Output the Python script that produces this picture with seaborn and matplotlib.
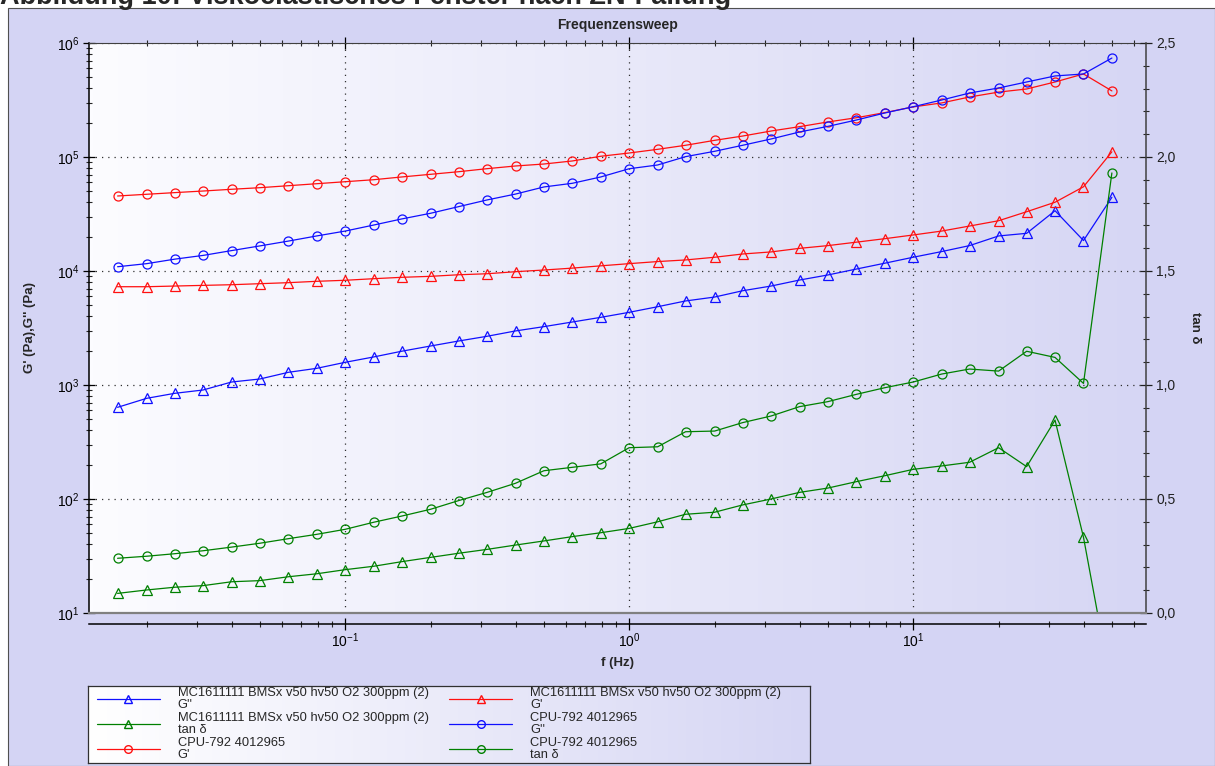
import numpy as np
import pandas as pd
import matplotlib
matplotlib.use("Agg")
import matplotlib.pyplot as plt
import seaborn as sns
from matplotlib.lines import Line2D
from matplotlib.patches import Rectangle
from matplotlib.ticker import LogLocator, MultipleLocator, FuncFormatter, NullFormatter

# Frequenz (Hz)
freq = [0.0158, 0.02, 0.0251, 0.0316, 0.0398, 0.0501, 0.0631, 0.0794,
        0.1, 0.126, 0.158, 0.2, 0.251, 0.316, 0.398, 0.501, 0.631, 0.794,
        1.0, 1.26, 1.58, 2.0, 2.51, 3.16, 3.98, 5.01, 6.31, 7.94,
        10.0, 12.6, 15.8, 20.0, 25.1, 31.6, 39.8, 50.1]

# CPU-792 4012965
cpu_g1 = [45500, 47100, 48700, 50300, 52100, 53800, 56000, 58300, 60700, 63200,
          66800, 70500, 74300, 79000, 83400, 86800, 92300, 101500, 108400, 116800,
          126700, 140000, 152700, 169000, 184500, 203000, 221000, 245000, 275000, 298000,
          336000, 371000, 395000, 455000, 535000, 380000]
cpu_g2 = [10900, 11600, 12700, 13700, 15100, 16600, 18300, 20300, 22400, 25300,
          28600, 32100, 36700, 42000, 47300, 54600, 58800, 66800, 78900, 85100,
          100700, 112200, 126700, 143900, 165700, 185700, 211000, 243000, 276000, 316000,
          364000, 403000, 455000, 514000, 535000, 738000]
cpu_tan = [0.240, 0.249, 0.260, 0.273, 0.289, 0.306, 0.326, 0.345, 0.367, 0.398,
           0.425, 0.455, 0.493, 0.529, 0.569, 0.624, 0.639, 0.654, 0.725, 0.729,
           0.795, 0.798, 0.835, 0.864, 0.905, 0.927, 0.959, 0.988, 1.013, 1.048,
           1.070, 1.061, 1.148, 1.121, 1.007, 1.93]

# MC1611111 BMSx v50 hv50 O2 300ppm (2)
mc_g1 = [7280, 7280, 7380, 7480, 7580, 7740, 7900, 8120, 8290, 8560,
         8800, 8980, 9270, 9460, 9860, 10200, 10600, 11100, 11600, 12100,
         12500, 13200, 14100, 14700, 15800, 16700, 17900, 19200, 20700, 22400,
         24800, 27600, 33100, 40100, 54800, 111000]
mc_g2 = [637, 764, 845, 904, 1062, 1129, 1292, 1400, 1581, 1762,
         1977, 2199, 2432, 2675, 2980, 3250, 3570, 3920, 4340, 4860,
         5460, 5910, 6710, 7380, 8330, 9230, 10400, 11700, 13200, 14800,
         16700, 20300, 21400, 33800, 18500, 44300]
mc_tan = [0.086, 0.101, 0.113, 0.120, 0.137, 0.142, 0.159, 0.172, 0.190, 0.205,
          0.225, 0.244, 0.262, 0.279, 0.298, 0.316, 0.335, 0.352, 0.371, 0.400,
          0.433, 0.442, 0.474, 0.500, 0.529, 0.548, 0.576, 0.602, 0.630, 0.645,
          0.661, 0.725, 0.642, 0.846, 0.332, -0.34]

df = pd.DataFrame({"f": freq, "cpu_g1": cpu_g1, "cpu_g2": cpu_g2, "cpu_tan": cpu_tan,
                   "mc_g1": mc_g1, "mc_g2": mc_g2, "mc_tan": mc_tan})

sns.set_style("ticks")
plt.rcParams["font.family"] = ["Liberation Sans", "DejaVu Sans"]
plt.rcParams["mathtext.fontset"] = "custom"
plt.rcParams["mathtext.rm"] = "Liberation Sans"
plt.rcParams["mathtext.it"] = "Liberation Sans:italic"
plt.rcParams["mathtext.bf"] = "Liberation Sans:bold"

RED, BLUE, GREEN = "#FF1010", "#1010FF", "#008000"
W, H = 1215, 766

fig = plt.figure(figsize=(12.15, 7.66), dpi=100)
fig.patch.set_facecolor("white")
fig.add_artist(Rectangle((8 / W, 0), 1 - 8 / W, 1 - 8 / H, transform=fig.transFigure,
                         facecolor="#D4D4F4", edgecolor="#505050", lw=0.8, zorder=-10))
# Bildunterschrift oben (im Original angeschnitten)
fig.text(0.0, 1 - 4 / H, "Abbildung 10: Viskoelastisches Fenster nach ZN-Fällung",
         fontsize=19.5, fontweight="bold", va="baseline", ha="left", zorder=20)

rect = [89 / W, 1 - 613 / H, 1057 / W, 570 / H]

# Hintergrund-Verlauf
left_c = np.array([252, 252, 255]) / 255
right_c = np.array([214, 214, 244]) / 255
t = np.linspace(0, 1, 256)[:, None]
grad = (left_c + (right_c - left_c) * t)[None, :, :]

bg = fig.add_axes(rect)
bg.imshow(grad, aspect="auto", extent=[0, 1, 0, 1])
bg.set_axis_off()

ax = fig.add_axes(rect)
ax.patch.set_alpha(0)
ax.set_xscale("log")
ax.set_yscale("log")

def draw(a, col, color, marker, ms):
    sns.lineplot(data=df, x="f", y=col, ax=a, color=color, marker=marker, markersize=ms,
                 markerfacecolor="none", markeredgecolor=color, markeredgewidth=0.9,
                 linewidth=0.9, legend=False)

draw(ax, "mc_g2", BLUE, "^", 7)
draw(ax, "mc_g1", RED, "^", 7)
draw(ax, "cpu_g1", RED, "o", 6.5)
draw(ax, "cpu_g2", BLUE, "o", 6.5)

ax.set_xlim(10 ** -1.902, 10 ** 1.820)
ax.set_ylim(10, 1e6)
ax.xaxis.set_major_locator(LogLocator(base=10, numticks=10))
ax.xaxis.set_minor_locator(LogLocator(base=10, subs=np.arange(2, 10), numticks=20))
ax.xaxis.set_minor_formatter(NullFormatter())
ax.yaxis.set_major_locator(LogLocator(base=10, numticks=10))
ax.yaxis.set_minor_locator(LogLocator(base=10, subs=np.arange(2, 10), numticks=20))
ax.yaxis.set_minor_formatter(NullFormatter())
ax.grid(which="major", color="#303030", linestyle=(0, (1, 4)), linewidth=0.9)
ax.tick_params(axis="both", which="major", direction="inout", length=8, width=0.9,
               labelsize=10, colors="black")
ax.tick_params(axis="both", which="minor", direction="inout", length=5, width=0.8)
ax.tick_params(axis="x", top=True, which="both")
ax.tick_params(axis="x", which="major", pad=1)
ax.tick_params(axis="y", which="major", pad=3)
for s in ["left", "bottom"]:
    ax.spines[s].set_color("black")
    ax.spines[s].set_linewidth(1.1)
ax.spines["bottom"].set_position(("outward", 8))
ax.spines["top"].set_color("#404040")
ax.spines["right"].set_visible(False)
ax.set_xlabel("f (Hz)", fontsize=9.5, fontweight="bold", labelpad=5)
ax.set_ylabel("G' (Pa),G'' (Pa)", fontsize=9.5, fontweight="bold", labelpad=15)
ax.set_title("Frequenzensweep", fontsize=10, fontweight="bold", pad=10)

ax2 = ax.twinx()
draw(ax2, "mc_tan", GREEN, "^", 7)
draw(ax2, "cpu_tan", GREEN, "o", 6.5)
ax2.set_ylim(0, 2.5)
ax2.yaxis.set_major_locator(MultipleLocator(0.5))
ax2.yaxis.set_minor_locator(MultipleLocator(0.1))
ax2.yaxis.set_major_formatter(FuncFormatter(lambda v, p: f"{v:.1f}".replace(".", ",")))
ax2.tick_params(axis="y", which="major", direction="inout", length=8, width=0.9,
                labelsize=10, colors="#202020")
ax2.tick_params(axis="y", which="minor", direction="inout", length=5, width=0.8)
ax2.spines["left"].set_visible(False)
ax2.spines["top"].set_visible(False)
ax2.spines["right"].set_color("#404040")
ax2.spines["right"].set_linewidth(1.1)
ax2.spines["bottom"].set_color("#808080")
ax2.spines["bottom"].set_linewidth(1.6)
ax2.set_ylabel("tan δ", fontsize=9.5, fontweight="bold", rotation=270, labelpad=18)

# Legende
lx0, ly0, lw, lh = 88 / W, 1 - 763 / H, 722 / W, 77 / H
legax = fig.add_axes([lx0, ly0, lw, lh])
lgrad = (np.array([1.0, 1.0, 1.0]) + (right_c - np.array([1.0, 1.0, 1.0])) * t)[None, :, :]
legax.imshow(lgrad, aspect="auto", extent=[0, 1, 0, 1])
legax.set_xticks([])
legax.set_yticks([])
for s in legax.spines.values():
    s.set_color("#303030")
    s.set_linewidth(0.9)

mc = "MC1611111 BMSx v50 hv50 O2 300ppm (2)"
cpu = "CPU-792 4012965"
entries = [(BLUE, "^", mc + "\nG''"), (GREEN, "^", mc + "\ntan δ"), (RED, "o", cpu + "\nG'"),
           (RED, "^", mc + "\nG'"), (BLUE, "o", cpu + "\nG''"), (GREEN, "o", cpu + "\ntan δ")]
handles = [Line2D([], [], color=c, marker=m, mfc="none", mec=c, ms=5.5, lw=0.9) for c, m, _ in entries]
labels = [l for _, _, l in entries]
leg = fig.legend(handles, labels, loc="upper left", bbox_to_anchor=(97 / W, 1 - 687 / H),
                 ncol=2, frameon=False, fontsize=9.3, handlelength=4.85, handletextpad=1.4,
                 labelspacing=0.08, borderpad=0.0, borderaxespad=0.0, columnspacing=1.6)
for txt in leg.get_texts():
    txt.set_linespacing(0.98)

fig.savefig("out.png", dpi=100)
